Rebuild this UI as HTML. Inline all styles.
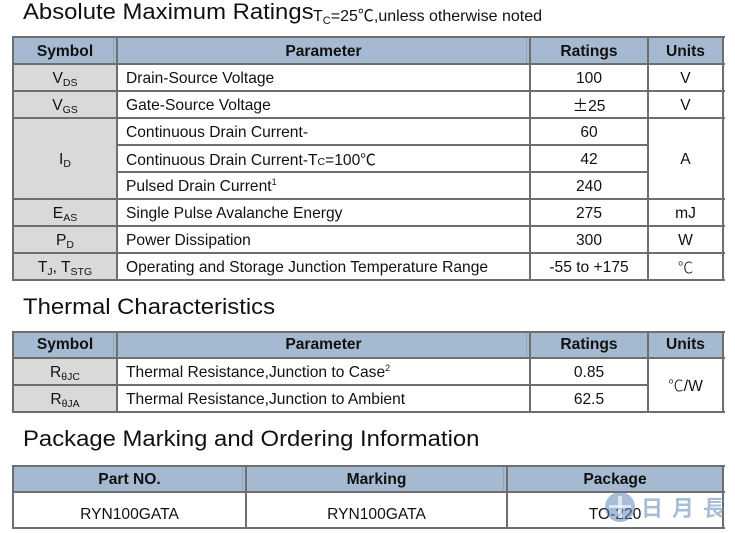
<!DOCTYPE html>
<html>
<head>
<meta charset="utf-8">
<style>
  html,body{margin:0;padding:0;background:#fff;}
  body{width:735px;height:533px;position:relative;overflow:hidden;
       font-family:"Liberation Sans","Noto Sans CJK SC",sans-serif;color:#111;}
  .a{position:absolute;}
  .bgH{position:absolute;background:#a5bad0;}
  .bgS{position:absolute;background:#d9d9d9;}
  .h{position:absolute;height:2px;background:#6e6e6e;}
  .v{position:absolute;width:2px;background:#6e6e6e;}
  .hv{position:absolute;width:1px;background:#8ea4ba;}
  .c{position:absolute;text-align:center;white-space:nowrap;font-size:15.6px;}
  .l{position:absolute;text-align:left;white-space:nowrap;font-size:15.6px;}
  .b{font-weight:bold;}
  .title{position:absolute;font-size:22px;line-height:22px;white-space:nowrap;
         transform:scaleX(1.085);transform-origin:left top;color:#111;}
  sub{font-size:10.5px;vertical-align:-3px;line-height:0;}
  sup{font-size:9px;vertical-align:6px;line-height:0;}
  .cj{font-family:"Noto Sans CJK SC",sans-serif;}
</style>
</head>
<body>

<!-- Title 1 -->
<div class="title" style="left:23px;top:1px;">Absolute Maximum Ratings</div>
<div class="a" style="left:313px;top:6px;font-size:16px;line-height:16px;white-space:nowrap;">T<sub style="font-size:11px;vertical-align:-3px;">C</sub>=25<span class="cj">℃</span>,unless otherwise noted</div>

<!-- Table 1 backgrounds -->
<div class="bgH" style="left:13px;top:37px;width:710px;height:27px;"></div>
<div class="bgS" style="left:13px;top:64px;width:104px;height:216px;"></div>
<div class="hv" style="left:113px;top:38px;height:26px;"></div>
<div class="hv" style="left:526px;top:38px;height:26px;"></div>

<!-- Table 1 lines -->
<div class="h" style="left:13px;top:36px;width:712px;"></div>
<div class="h" style="left:13px;top:63px;width:712px;"></div>
<div class="h" style="left:13px;top:90px;width:712px;"></div>
<div class="h" style="left:13px;top:117px;width:712px;"></div>
<div class="h" style="left:117px;top:144px;width:531px;"></div>
<div class="h" style="left:117px;top:171px;width:531px;"></div>
<div class="h" style="left:13px;top:198px;width:712px;"></div>
<div class="h" style="left:13px;top:225px;width:712px;"></div>
<div class="h" style="left:13px;top:252px;width:712px;"></div>
<div class="h" style="left:13px;top:279px;width:712px;"></div>
<div class="v" style="left:12px;top:36px;height:245px;"></div>
<div class="v" style="left:116px;top:36px;height:245px;"></div>
<div class="v" style="left:529px;top:36px;height:245px;"></div>
<div class="v" style="left:647px;top:36px;height:245px;"></div>
<div class="v" style="left:722px;top:36px;height:245px;"></div>

<!-- Table 1 header text -->
<div class="c b" style="left:13px;width:104px;top:38px;height:27px;line-height:27px;">Symbol</div>
<div class="c b" style="left:117px;width:413px;top:38px;height:27px;line-height:27px;">Parameter</div>
<div class="c b" style="left:530px;width:118px;top:38px;height:27px;line-height:27px;">Ratings</div>
<div class="c b" style="left:648px;width:75px;top:38px;height:27px;line-height:27px;">Units</div>

<!-- Table 1 rows -->
<div class="c" style="left:13px;width:104px;top:65px;height:27px;line-height:27px;">V<sub>DS</sub></div>
<div class="l" style="left:126px;top:65px;height:27px;line-height:27px;">Drain-Source Voltage</div>
<div class="c" style="left:530px;width:118px;top:65px;height:27px;line-height:27px;">100</div>
<div class="c" style="left:648px;width:75px;top:65px;height:27px;line-height:27px;">V</div>

<div class="c" style="left:13px;width:104px;top:92px;height:27px;line-height:27px;">V<sub>GS</sub></div>
<div class="l" style="left:126px;top:92px;height:27px;line-height:27px;">Gate-Source Voltage</div>
<div class="c" style="left:530px;width:118px;top:92px;height:27px;line-height:27px;"><span class="cj">±</span>25</div>
<div class="c" style="left:648px;width:75px;top:92px;height:27px;line-height:27px;">V</div>

<div class="c" style="left:13px;width:104px;top:119px;height:81px;line-height:81px;">I<sub>D</sub></div>
<div class="l" style="left:126px;top:119px;height:27px;line-height:27px;">Continuous Drain Current-</div>
<div class="c" style="left:530px;width:118px;top:119px;height:27px;line-height:27px;">60</div>
<div class="l" style="left:126px;top:146px;height:27px;line-height:27px;">Continuous Drain Current-T<span style="font-size:10.5px;">C</span>=100<span class="cj">℃</span></div>
<div class="c" style="left:530px;width:118px;top:146px;height:27px;line-height:27px;">42</div>
<div class="l" style="left:126px;top:173px;height:27px;line-height:27px;">Pulsed Drain Current<sup>1</sup></div>
<div class="c" style="left:530px;width:118px;top:173px;height:27px;line-height:27px;">240</div>
<div class="c" style="left:648px;width:75px;top:119px;height:81px;line-height:81px;">A</div>

<div class="c" style="left:13px;width:104px;top:200px;height:27px;line-height:27px;">E<sub>AS</sub></div>
<div class="l" style="left:126px;top:200px;height:27px;line-height:27px;">Single Pulse Avalanche Energy</div>
<div class="c" style="left:530px;width:118px;top:200px;height:27px;line-height:27px;">275</div>
<div class="c" style="left:648px;width:75px;top:200px;height:27px;line-height:27px;">mJ</div>

<div class="c" style="left:13px;width:104px;top:227px;height:27px;line-height:27px;">P<sub>D</sub></div>
<div class="l" style="left:126px;top:227px;height:27px;line-height:27px;">Power Dissipation</div>
<div class="c" style="left:530px;width:118px;top:227px;height:27px;line-height:27px;">300</div>
<div class="c" style="left:648px;width:75px;top:227px;height:27px;line-height:27px;">W</div>

<div class="c" style="left:13px;width:104px;top:254px;height:27px;line-height:27px;">T<sub>J</sub>, T<sub>STG</sub></div>
<div class="l" style="left:126px;top:254px;height:27px;line-height:27px;">Operating and Storage Junction Temperature Range</div>
<div class="c" style="left:530px;width:118px;top:254px;height:27px;line-height:27px;">-55 to +175</div>
<div class="c" style="left:648px;width:75px;top:254px;height:27px;line-height:27px;"><span class="cj" style="font-weight:300;">℃</span></div>

<!-- Title 2 -->
<div class="title" style="left:23px;top:296px;">Thermal Characteristics</div>

<!-- Table 2 -->
<div class="bgH" style="left:13px;top:332px;width:710px;height:26px;"></div>
<div class="bgS" style="left:13px;top:358px;width:104px;height:54px;"></div>
<div class="hv" style="left:113px;top:333px;height:25px;"></div>
<div class="hv" style="left:526px;top:333px;height:25px;"></div>

<div class="h" style="left:13px;top:331px;width:712px;"></div>
<div class="h" style="left:13px;top:357px;width:712px;"></div>
<div class="h" style="left:13px;top:384px;width:635px;"></div>
<div class="h" style="left:13px;top:411px;width:712px;"></div>
<div class="v" style="left:12px;top:331px;height:82px;"></div>
<div class="v" style="left:116px;top:331px;height:82px;"></div>
<div class="v" style="left:529px;top:331px;height:82px;"></div>
<div class="v" style="left:647px;top:331px;height:82px;"></div>
<div class="v" style="left:722px;top:331px;height:82px;"></div>

<div class="c b" style="left:13px;width:104px;top:332px;height:26px;line-height:26px;">Symbol</div>
<div class="c b" style="left:117px;width:413px;top:332px;height:26px;line-height:26px;">Parameter</div>
<div class="c b" style="left:530px;width:118px;top:332px;height:26px;line-height:26px;">Ratings</div>
<div class="c b" style="left:648px;width:75px;top:332px;height:26px;line-height:26px;">Units</div>

<div class="c" style="left:13px;width:104px;top:359px;height:27px;line-height:27px;">R<sub>θJC</sub></div>
<div class="l" style="left:126px;top:359px;height:27px;line-height:27px;">Thermal Resistance,Junction to Case<sup>2</sup></div>
<div class="c" style="left:530px;width:118px;top:359px;height:27px;line-height:27px;">0.85</div>
<div class="c" style="left:13px;width:104px;top:386px;height:27px;line-height:27px;">R<sub>θJA</sub></div>
<div class="l" style="left:126px;top:386px;height:27px;line-height:27px;">Thermal Resistance,Junction to Ambient</div>
<div class="c" style="left:530px;width:118px;top:386px;height:27px;line-height:27px;">62.5</div>
<div class="c" style="left:648px;width:75px;top:358px;height:54px;line-height:54px;"><span class="cj" style="font-weight:300;">℃</span>/W</div>

<!-- Title 3 -->
<div class="title" style="left:23px;top:428px;">Package Marking and Ordering Information</div>

<!-- Table 3 -->
<div class="bgH" style="left:13px;top:466px;width:710px;height:26px;"></div>
<div class="hv" style="left:242px;top:467px;height:25px;"></div>
<div class="hv" style="left:503px;top:467px;height:25px;"></div>
<div class="h" style="left:13px;top:465px;width:712px;"></div>
<div class="h" style="left:13px;top:491px;width:712px;"></div>
<div class="h" style="left:13px;top:527px;width:712px;"></div>
<div class="v" style="left:12px;top:465px;height:64px;"></div>
<div class="v" style="left:245px;top:465px;height:64px;"></div>
<div class="v" style="left:506px;top:465px;height:64px;"></div>
<div class="v" style="left:722px;top:465px;height:64px;"></div>

<div class="c b" style="left:13px;width:233px;top:467px;height:26px;line-height:26px;">Part NO.</div>
<div class="c b" style="left:246px;width:261px;top:467px;height:26px;line-height:26px;">Marking</div>
<div class="c b" style="left:507px;width:216px;top:467px;height:26px;line-height:26px;">Package</div>

<div class="c" style="left:13px;width:233px;top:497px;height:36px;line-height:36px;">RYN100GATA</div>
<div class="c" style="left:246px;width:261px;top:497px;height:36px;line-height:36px;">RYN100GATA</div>
<div class="c" style="left:507px;width:216px;top:497px;height:36px;line-height:36px;">TO-220</div>

<!-- Watermark -->
<div class="a" style="left:605px;top:492px;width:30px;height:30px;border-radius:50%;background:rgba(95,135,185,0.55);"></div>
<div class="a" style="left:618px;top:496px;width:4px;height:22px;background:rgba(255,255,255,0.6);"></div>
<div class="a" style="left:609px;top:505px;width:22px;height:3px;background:rgba(255,255,255,0.6);"></div>
<div class="a" style="left:641px;top:495px;font-family:'Noto Sans CJK TC','Noto Sans CJK SC',sans-serif;font-size:22px;line-height:24px;font-weight:bold;color:rgba(110,145,190,0.6);letter-spacing:9px;white-space:nowrap;">日月長</div>

</body>
</html>
